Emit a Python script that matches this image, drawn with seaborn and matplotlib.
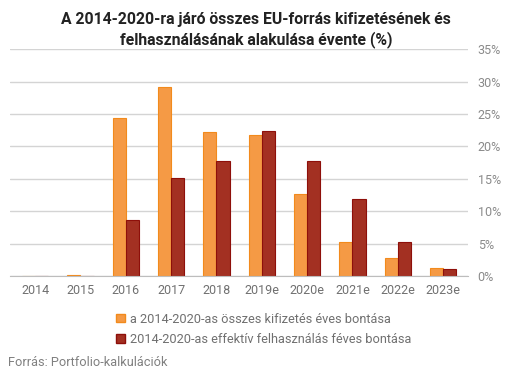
import matplotlib.pyplot as plt
import matplotlib.patches as mpatches
import seaborn as sns
import pandas as pd

years = ['2014', '2015', '2016', '2017', '2018', '2019e', '2020e', '2021e', '2022e', '2023e']
kifizetes = [0.0, 0.2, 24.3, 29.1, 22.2, 21.8, 12.7, 5.3, 2.8, 1.3]
felhasznalas = [0.0, 0.0, 8.6, 15.1, 17.7, 22.3, 17.7, 11.8, 5.2, 1.0]
series_names = ['a 2014-2020-as összes kifizetés éves bontása',
                '2014-2020-as effektív felhasználás féves bontása']
yticks = [0, 5, 10, 15, 20, 25, 30, 35]

sns.set_style('white')
plt.rcParams['font.family'] = ['Roboto', 'DejaVu Sans']

df = pd.DataFrame({'ev': years * 2,
                   'ertek': kifizetes + felhasznalas,
                   'sorozat': [series_names[0]] * len(years) + [series_names[1]] * len(years)})

colors = ['#F59A45', '#A33022']
edges = ['#F28A1C', '#8E0F0A']

fig = plt.figure(figsize=(5.12, 3.78), dpi=100)
ax = fig.add_axes([0.02, 0.27, 0.894, 0.6])
sns.barplot(data=df, x='ev', y='ertek', hue='sorozat', palette=colors,
            width=0.58, gap=0, ax=ax, legend=False, saturation=1)

for i, cont in enumerate(ax.containers):
    for b in cont:
        b.set_edgecolor(edges[i])
        b.set_linewidth(0.8)

ax.set_ylim(0, 35)
ax.set_xlim(-0.55, 9.55)
ax.set_yticks(yticks)
ax.set_yticklabels([f'{t}%' for t in yticks])
ax.yaxis.tick_right()
ax.grid(axis='y', color='#d4d4d4', linewidth=1)
ax.set_axisbelow(True)
for s in ['top', 'left', 'right']:
    ax.spines[s].set_visible(False)
ax.spines['bottom'].set_color('#bdbdbd')
ax.tick_params(axis='y', length=0, pad=7, labelsize=9, labelcolor='#8a8a8a')
ax.tick_params(axis='x', length=0, pad=6, labelsize=9, labelcolor='#707070')
ax.set_xlabel('')
ax.set_ylabel('')

fig.text(0.5, 0.968, 'A 2014-2020-ra járó összes EU-forrás kifizetésének és\nfelhasználásának alakulása évente (%)',
         ha='center', va='top', fontsize=11.3, fontweight='bold', color='#222222', linespacing=1.3)

handles = [mpatches.Patch(facecolor=colors[i], edgecolor=edges[i], label=series_names[i]) for i in range(2)]
fig.legend(handles=handles, loc='upper left', bbox_to_anchor=(0.215, 0.19), frameon=False,
           fontsize=9.2, labelcolor='#707070', handlelength=0.65, handleheight=0.65,
           handletextpad=0.4, labelspacing=0.6, borderpad=0)

fig.text(0.015, 0.04, 'Forrás: Portfolio-kalkulációk', ha='left', va='center', fontsize=9.2, color='#808080')

fig.savefig('out.png', dpi=100, facecolor='white')
